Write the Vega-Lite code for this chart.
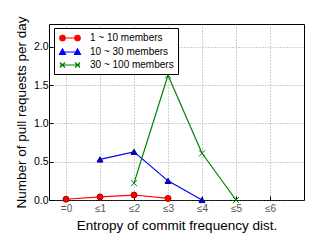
{
  "$schema": "https://vega.github.io/schema/vega-lite/v6.json",
  "width": 255,
  "height": 176,
  "autosize": {"type": "none"},
  "padding": {"left": 49, "top": 24, "right": 23, "bottom": 45},
  "background": "white",
  "config": {
    "font": "Liberation Sans",
    "view": {"stroke": "black", "strokeWidth": 1},
    "axis": {"gridColor": "#777", "gridDash": [1, 2], "gridWidth": 0.7, "domain": false, "tickColor": "black", "labelColor": "black"},
    "legend": {"orient": "none", "legendX": 5, "legendY": 4, "strokeColor": "black", "fillColor": "white", "padding": 4, "symbolSize": 100, "symbolOpacity": 1, "symbolStrokeWidth": 1.2, "symbolOffset": 6, "labelOffset": 14, "labelFontSize": 10, "rowPadding": 2, "cornerRadius": 0, "titleFontSize": 0}
  },
  "data": {"values": [
    {"series": "1 ~ 10 members", "x": 0, "y": 0.01},
    {"series": "1 ~ 10 members", "x": 1, "y": 0.04},
    {"series": "1 ~ 10 members", "x": 2, "y": 0.065},
    {"series": "1 ~ 10 members", "x": 3, "y": 0.02},
    {"series": "10 ~ 30 members", "x": 1, "y": 0.53},
    {"series": "10 ~ 30 members", "x": 2, "y": 0.63},
    {"series": "10 ~ 30 members", "x": 3, "y": 0.25},
    {"series": "10 ~ 30 members", "x": 4, "y": 0.0},
    {"series": "30 ~ 100 members", "x": 2, "y": 0.22},
    {"series": "30 ~ 100 members", "x": 3, "y": 1.63},
    {"series": "30 ~ 100 members", "x": 4, "y": 0.61},
    {"series": "30 ~ 100 members", "x": 5, "y": 0.0}
  ]},
  "encoding": {
    "x": {"field": "x", "type": "quantitative", "scale": {"domain": [-0.5, 7], "nice": false, "zero": false},
      "axis": {"title": "Entropy of commit frequency dist.", "values": [0, 1, 2, 3, 4, 5, 6], "labelExpr": "datum.value == 0 ? '=0' : '≤' + datum.value", "labelFontSize": 10, "labelColor": "#555", "titleFontSize": 13.5, "titleFontWeight": "normal", "tickSize": -4, "labelPadding": 7, "titlePadding": 5}},
    "y": {"field": "y", "type": "quantitative", "scale": {"domain": [0, 2.3], "nice": false},
      "axis": {"title": "Number of pull requests per day", "values": [0, 0.5, 1, 1.5, 2], "format": ".1f", "labelFontSize": 10.5, "titleFontSize": 13.5, "titleFontWeight": "normal", "tickSize": -4, "labelPadding": 5, "titlePadding": 5}}
  },
  "layer": [
    {"mark": {"type": "line", "strokeWidth": 1.2},
     "encoding": {"color": {"field": "series", "type": "nominal", "scale": {"domain": ["1 ~ 10 members", "10 ~ 30 members", "30 ~ 100 members"], "range": ["#ff0000", "#0000ff", "#008000"]}, "legend": null}}},
    {"mark": {"type": "point", "filled": true, "size": 36, "strokeWidth": 1, "opacity": 1},
     "encoding": {
       "color": {"field": "series", "type": "nominal", "scale": {"domain": ["1 ~ 10 members", "10 ~ 30 members", "30 ~ 100 members"], "range": ["#ff0000", "#0000ff", "#008000"]}, "legend": null},
       "shape": {"field": "series", "type": "nominal", "scale": {"domain": ["1 ~ 10 members", "10 ~ 30 members", "30 ~ 100 members"], "range": ["circle", "triangle-up", "M-1,-1L1,1M-1,1L1,-1"]}, "legend": null},
       "stroke": {"field": "series", "type": "nominal", "scale": {"domain": ["1 ~ 10 members", "10 ~ 30 members", "30 ~ 100 members"], "range": ["#aa0000", "#000088", "#008000"]}, "legend": null}
     }},
    {"mark": {"type": "point", "filled": true, "opacity": 0, "strokeWidth": 1.2},
     "encoding": {
       "color": {"field": "series", "type": "nominal", "scale": {"domain": ["1 ~ 10 members", "10 ~ 30 members", "30 ~ 100 members"], "range": ["#ff0000", "#0000ff", "#008000"]}, "legend": {"title": null, "orient": "none", "legendX": 5, "legendY": 4}},
       "stroke": {"field": "series", "type": "nominal", "scale": {"domain": ["1 ~ 10 members", "10 ~ 30 members", "30 ~ 100 members"], "range": ["#ff0000", "#0000ff", "#008000"]}, "legend": {"title": null, "orient": "none", "legendX": 5, "legendY": 4}},
       "shape": {"field": "series", "type": "nominal", "scale": {"domain": ["1 ~ 10 members", "10 ~ 30 members", "30 ~ 100 members"], "range": [
         "M-2,0L2,0M-2.05,0A0.55,0.55 0 1,1 -0.95,0A0.55,0.55 0 1,1 -2.05,0ZM0.95,0A0.55,0.55 0 1,1 2.05,0A0.55,0.55 0 1,1 0.95,0Z",
         "M-2,0L2,0M-2.1,0.5L-0.9,0.5L-1.5,-0.6ZM0.9,0.5L2.1,0.5L1.5,-0.6Z",
         "M-2,0L2,0M-2,-0.5L-1,0.5M-2,0.5L-1,-0.5M1,-0.5L2,0.5M1,0.5L2,-0.5"
       ]}, "legend": {"title": null, "orient": "none", "legendX": 5, "legendY": 4}}
     }}
  ],
  "resolve": {"scale": {"shape": "independent", "stroke": "independent", "color": "independent"}, "legend": {"color": "independent", "shape": "independent", "stroke": "independent"}}
}
